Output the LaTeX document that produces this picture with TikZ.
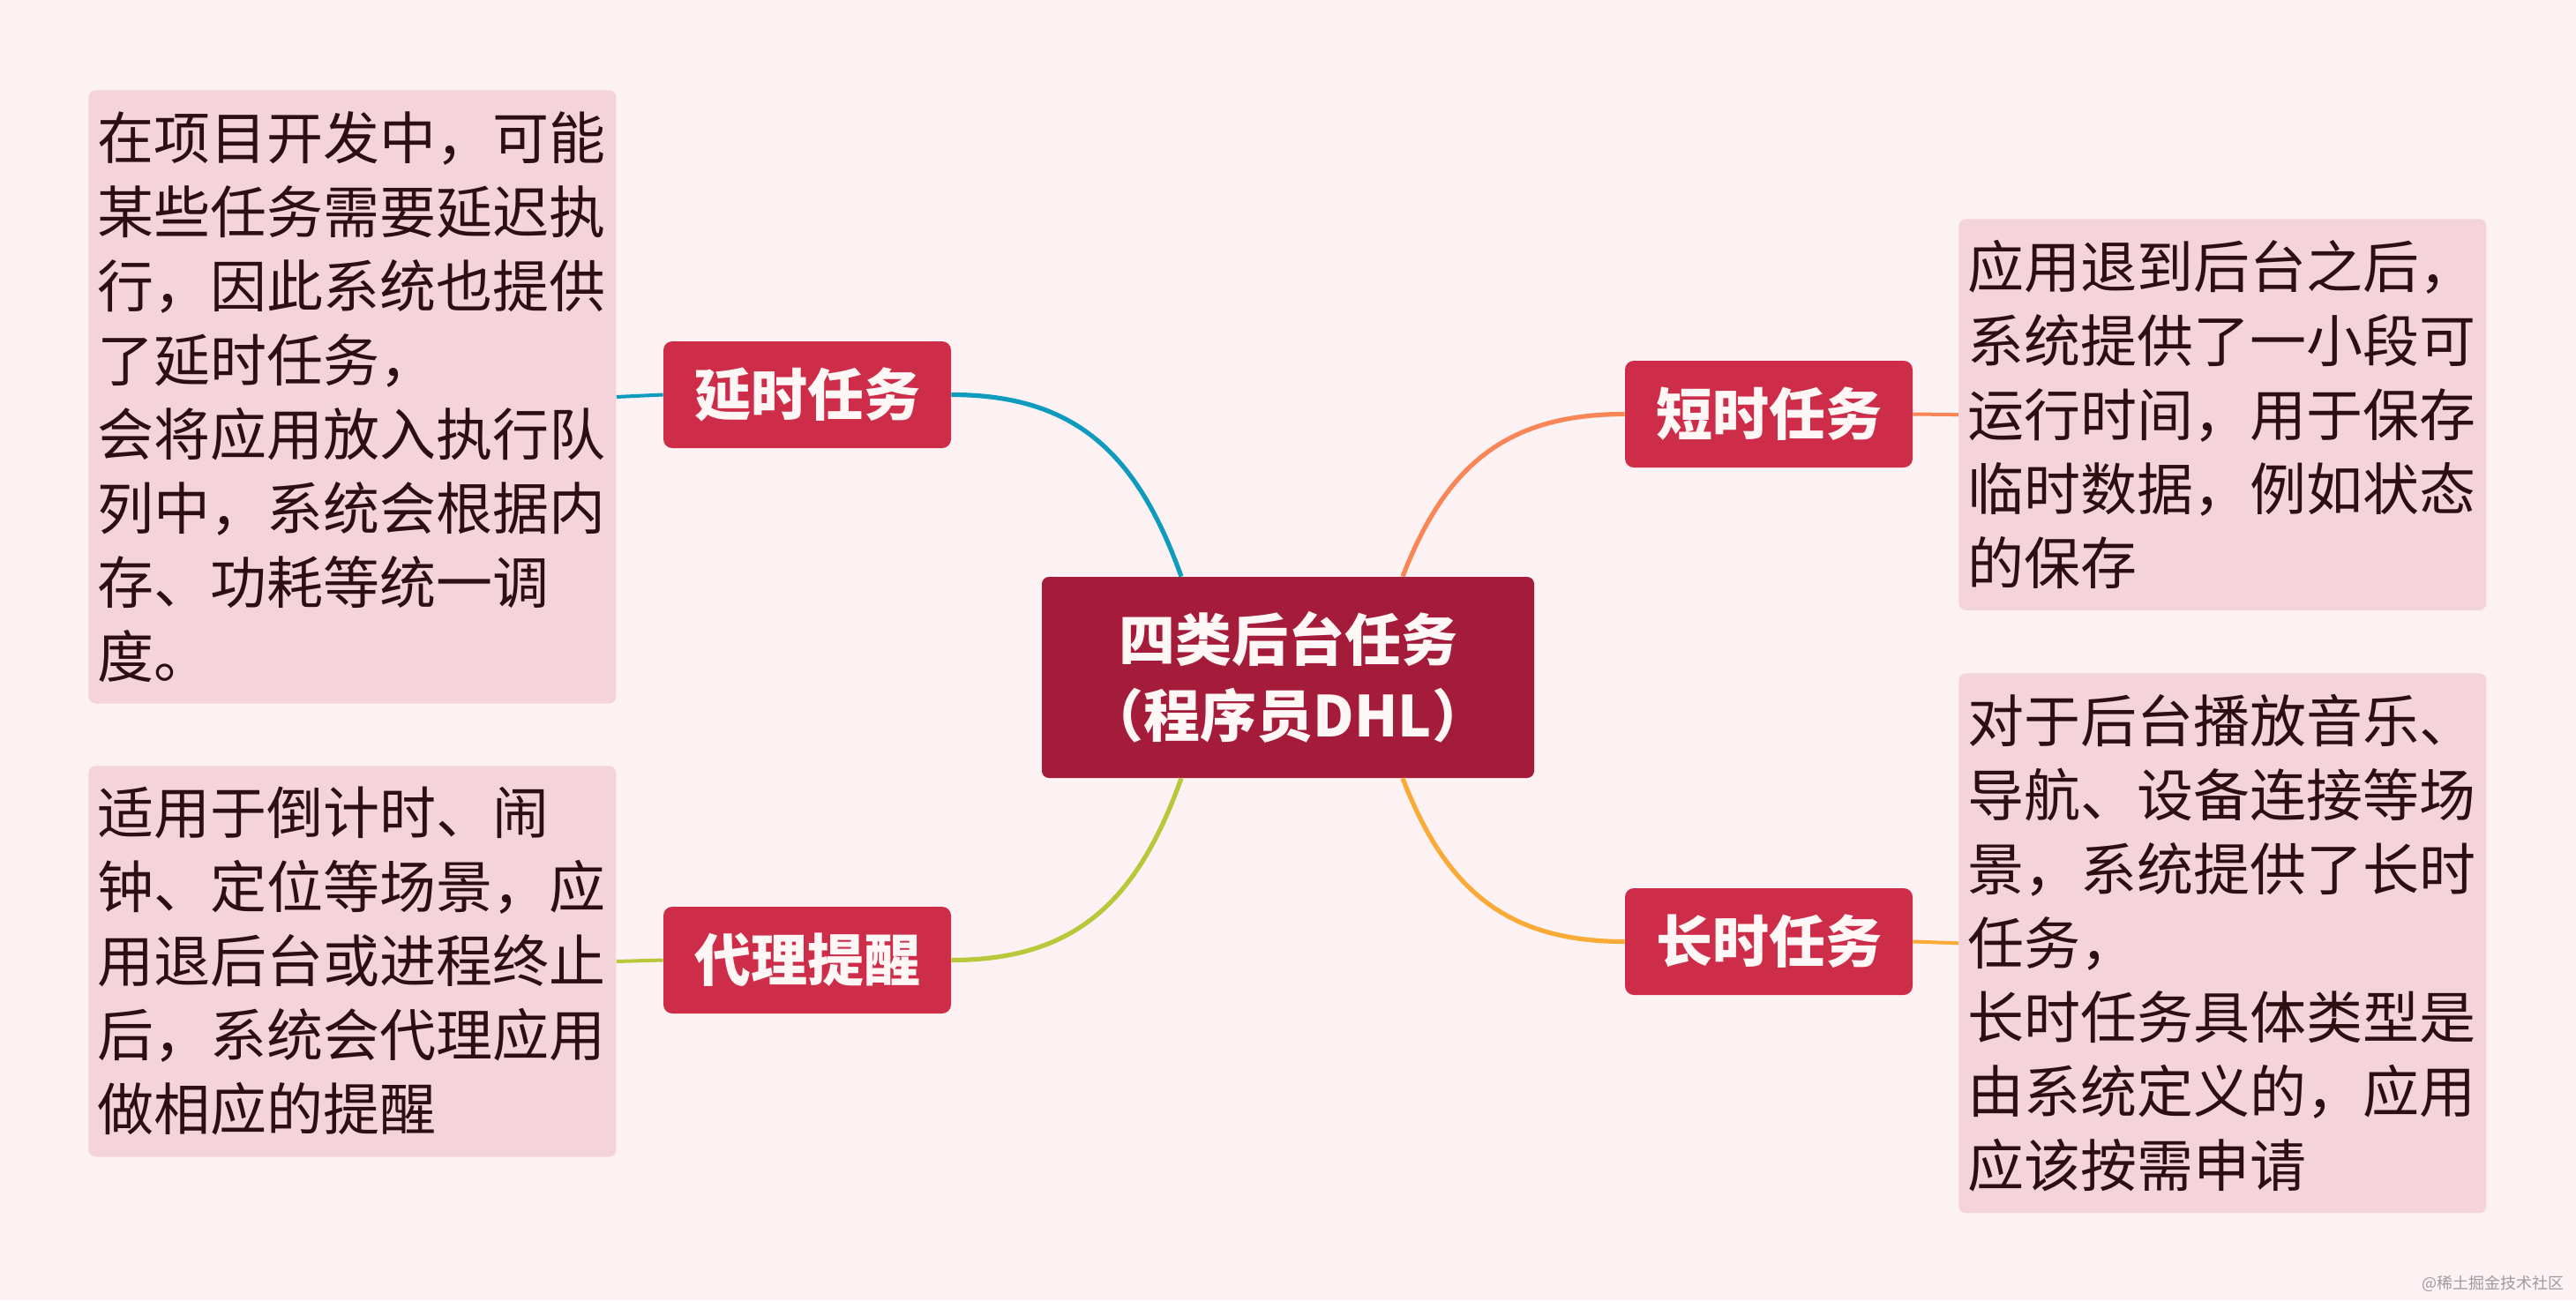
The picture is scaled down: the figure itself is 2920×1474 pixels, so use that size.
\documentclass[tikz,border=0pt]{standalone}
\usepackage{fontspec}
\setmainfont{Noto Sans CJK SC}
\usetikzlibrary{positioning}
\definecolor{bgpink}{HTML}{FCF2F3}
\definecolor{notefill}{HTML}{F4D3DA}
\definecolor{notetext}{HTML}{2B0F12}
\definecolor{branchred}{HTML}{CE2D4A}
\definecolor{corered}{HTML}{A51C3A}
\definecolor{labelwhite}{HTML}{FFF6F6}
\definecolor{lineteal}{HTML}{0E9BBE}
\definecolor{linegreen}{HTML}{B7C93A}
\definecolor{lineorange}{HTML}{F88656}
\definecolor{lineamber}{HTML}{F9AA37}
\definecolor{markgrey}{HTML}{A09A9C}

\begin{document}
\begin{tikzpicture}[x=0.5pt, y=-0.5pt,
    note/.style={fill=notefill, text=notetext, rounded corners=4pt,
        anchor=north west, align=left, text width=288.5pt,
        inner xsep=5.25pt, inner ysep=12pt,
        font=\fontsize{32pt}{42pt}\selectfont},
    branch/.style={fill=branchred, text=labelwhite, rounded corners=5pt,
        minimum width=163pt, minimum height=60.5pt, inner sep=0pt,
        font=\bfseries\fontsize{32pt}{40pt}\selectfont},
    core/.style={fill=corered, text=labelwhite, rounded corners=4pt,
        minimum width=279pt, minimum height=114pt, align=center,
        font=\bfseries\fontsize{32pt}{43pt}\selectfont},
    curve/.style={line width=2.6pt},
    stub/.style={line width=2pt}
]
    \useasboundingbox (0, 0) rectangle (2920, 1474);
    \fill[bgpink] (0, 0) rectangle (2920, 1474);

    % main topic
    \node[core] (topic) at (1460, 768) {四类后台任务\\（程序员DHL）};

    % four kinds of task
    \node[branch] (delay) at (915, 447.5) {延时任务};
    \node[branch] (proxy) at (915, 1088.5) {代理提醒};
    \node[branch] (short) at (2005, 469.5) {短时任务};
    \node[branch] (long) at (2005, 1067.5) {长时任务};

    % notes
    \node[note] (delaynote) at (100, 102) {
        在项目开发中，可能\\
        某些任务需要延迟执\\
        行，因此系统也提供\\
        了延时任务，\\
        会将应用放入执行队\\
        列中，系统会根据内\\
        存、功耗等统一调\\
        度。};
    \node[note] (proxynote) at (100, 868) {
        适用于倒计时、闹\\
        钟、定位等场景，应\\
        用退后台或进程终止\\
        后，系统会代理应用\\
        做相应的提醒};
    \node[note] (shortnote) at (2220, 248) {
        应用退到后台之后，\\
        系统提供了一小段可\\
        运行时间，用于保存\\
        临时数据，例如状态\\
        的保存};
    \node[note] (longnote) at (2220, 763) {
        对于后台播放音乐、\\
        导航、设备连接等场\\
        景，系统提供了长时\\
        任务，\\
        长时任务具体类型是\\
        由系统定义的，应用\\
        应该按需申请};

    \draw[curve, lineteal] ([xshift=-60.5pt]topic.north) .. controls +(-50, -140) and +(140, 0) .. (delay.east);
    \draw[curve, linegreen] ([xshift=-60.5pt]topic.south) .. controls +(-50, 140) and +(140, 0) .. (proxy.east);
    \draw[curve, lineorange] ([xshift=65pt]topic.north) .. controls +(50, -130) and +(-130, 0) .. (short.west);
    \draw[curve, lineamber] ([xshift=65pt]topic.south) .. controls +(50, 130) and +(-130, 0) .. (long.west);

    \draw[stub, lineteal] (delay.west) -- (delaynote.east);
    \draw[stub, linegreen] (proxy.west) -- (proxynote.east);
    \draw[stub, lineorange] (short.east) -- (shortnote.west);
    \draw[stub, lineamber] (long.east) -- (longnote.west);

    \node[anchor=east, text=markgrey, font=\fontsize{9pt}{9pt}\selectfont] (mark) at (2914, 1455) {@稀土掘金技术社区};
\end{tikzpicture}
\end{document}
